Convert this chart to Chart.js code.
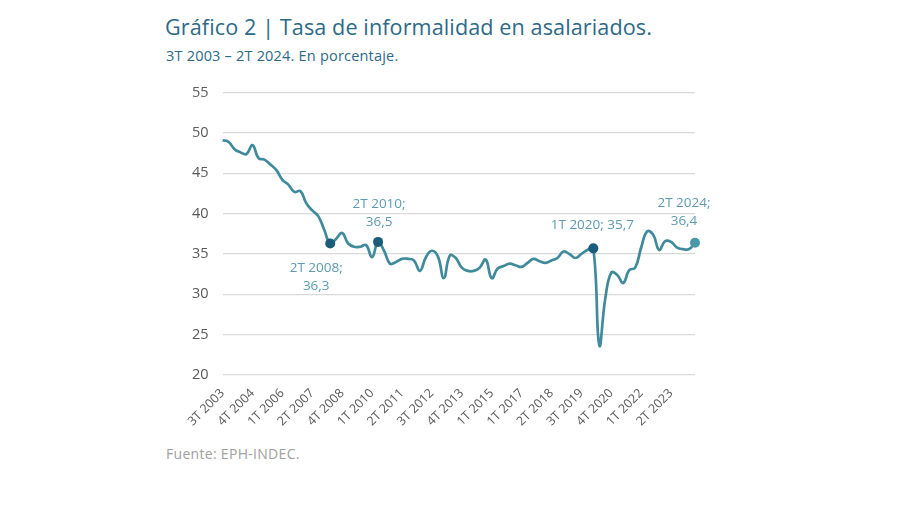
<!DOCTYPE html>
<html>
<head>
<meta charset="utf-8">
<script src="https://cdn.jsdelivr.net/npm/chart.js@4"></script>
<style>
  body { margin: 0; background: #fff; width: 900px; height: 506px; overflow: hidden; font-family: "Open Sans", sans-serif; }
  #title { position: absolute; left: 165px; top: 12px; font-size: 21.6px; color: #2d6a88; letter-spacing: 0.1px; }
  #subtitle { position: absolute; left: 166px; top: 46px; font-size: 14.5px; color: #2d6a88; letter-spacing: 0.2px; }
  #source { position: absolute; left: 166px; top: 444px; font-size: 14px; color: #a0a0a0; letter-spacing: 0.3px; }
  #wrap { position: absolute; left: 178px; top: 70px; width: 542px; height: 362px; }
</style>
</head>
<body>
<div id="title">Gráfico 2 | Tasa de informalidad en asalariados.</div>
<div id="subtitle">3T 2003 – 2T 2024. En porcentaje.</div>
<div id="source">Fuente: EPH-INDEC.</div>
<div id="wrap"><canvas id="chart"></canvas></div>
<script>
// quarters 3T 2003 - 2T 2024 (no data for 3T 2007 and 3T 2015 - 1T 2016)
const quarters = [
  '3T 2003', '4T 2003',
  '1T 2004', '2T 2004', '3T 2004', '4T 2004',
  '1T 2005', '2T 2005', '3T 2005', '4T 2005',
  '1T 2006', '2T 2006', '3T 2006', '4T 2006',
  '1T 2007', '2T 2007', '4T 2007',
  '1T 2008', '2T 2008', '3T 2008', '4T 2008',
  '1T 2009', '2T 2009', '3T 2009', '4T 2009',
  '1T 2010', '2T 2010', '3T 2010', '4T 2010',
  '1T 2011', '2T 2011', '3T 2011', '4T 2011',
  '1T 2012', '2T 2012', '3T 2012', '4T 2012',
  '1T 2013', '2T 2013', '3T 2013', '4T 2013',
  '1T 2014', '2T 2014', '3T 2014', '4T 2014',
  '1T 2015', '2T 2015',
  '2T 2016', '3T 2016', '4T 2016',
  '1T 2017', '2T 2017', '3T 2017', '4T 2017',
  '1T 2018', '2T 2018', '3T 2018', '4T 2018',
  '1T 2019', '2T 2019', '3T 2019', '4T 2019',
  '1T 2020', '2T 2020', '3T 2020', '4T 2020',
  '1T 2021', '2T 2021', '3T 2021', '4T 2021',
  '1T 2022', '2T 2022', '3T 2022', '4T 2022',
  '1T 2023', '2T 2023', '3T 2023', '4T 2023',
  '1T 2024', '2T 2024'
];

const informalidad = [
  49.1, 48.9,
  48.0, 47.6, 47.4, 48.5,
  46.9, 46.7, 46.1, 45.4,
  44.2, 43.6, 42.7, 42.8,
  41.3, 40.4, 39.7,
  38.0, 36.3, 36.9, 37.6,
  36.3, 35.9, 35.9, 36.1,
  34.6, 36.5, 35.4, 33.8,
  34.0, 34.4, 34.4, 34.2,
  32.9, 34.6, 35.4, 34.7,
  32.0, 34.8, 34.5, 33.3,
  32.9, 32.9, 33.3, 34.3,
  32.0, 33.2,
  33.5, 33.8, 33.6,
  33.4, 33.9, 34.4, 34.1,
  33.9, 34.2, 34.5, 35.3,
  35.0, 34.5, 35.0, 35.5,
  35.7, 23.7, 29.5, 32.7,
  32.4, 31.4, 33.0, 33.3,
  35.8, 37.8, 37.4, 35.5,
  36.6, 36.5, 35.8, 35.6,
  35.6, 36.4
];

const yTicks = [20, 25, 30, 35, 40, 45, 50, 55];

// highlighted quarters with their callouts
const callouts = [
  { q: '2T 2008', lines: ['2T 2008;', '36,3'], dx: -14, dy: 25 },
  { q: '2T 2010', lines: ['2T 2010;', '36,5'], dx: 1, dy: -38 },
  { q: '1T 2020', lines: ['1T 2020; 35,7'], dx: -1, dy: -23 },
  { q: '2T 2024', lines: ['2T 2024;', '36,4'], dx: -11, dy: -40 }
];

const lineColor = '#3f8a9b';
const dotColor = '#1b5b7c';
const lastDotColor = '#4b97a8';

const highlight = callouts.map(c => quarters.indexOf(c.q));

const calloutPlugin = {
  id: 'callouts',
  afterDatasetsDraw(chart) {
    const ctx = chart.ctx;
    const meta = chart.getDatasetMeta(0);
    ctx.save();
    ctx.font = '13.5px "Open Sans"';
    ctx.fillStyle = '#5c9bb2';
    ctx.textAlign = 'center';
    ctx.textBaseline = 'middle';
    callouts.forEach(c => {
      const pt = meta.data[quarters.indexOf(c.q)];
      c.lines.forEach((t, i) => {
        ctx.fillText(t, pt.x + c.dx, pt.y + c.dy + i * 18);
      });
    });
    ctx.restore();
  }
};

new Chart(document.getElementById('chart'), {
  type: 'line',
  data: {
    labels: quarters,
    datasets: [{
      data: informalidad,
      borderColor: lineColor,
      borderWidth: 2.7,
      tension: 0.45,
      fill: false,
      pointRadius: ctx => highlight.includes(ctx.dataIndex) ? 5 : 0,
      pointHoverRadius: 0,
      pointBackgroundColor: ctx => ctx.dataIndex === quarters.length - 1 ? lastDotColor : dotColor,
      pointBorderWidth: 0
    }]
  },
  options: {
    responsive: true,
    maintainAspectRatio: false,
    animation: false,
    layout: { padding: { top: 6, right: 25, left: 0, bottom: 0 } },
    plugins: { legend: { display: false }, tooltip: { enabled: false } },
    scales: {
      x: {
        offset: false,
        grid: { display: false },
        border: { display: false },
        ticks: {
          autoSkip: false,
          minRotation: 45,
          maxRotation: 45,
          color: '#595959',
          font: { family: 'Open Sans', size: 12.5 },
          padding: 3,
          callback: function (v, i) { return i % 5 === 0 ? quarters[i] : null; }
        }
      },
      y: {
        min: yTicks[0],
        max: yTicks[yTicks.length - 1],
        afterBuildTicks: axis => { axis.ticks = yTicks.map(v => ({ value: v })); },
        grid: { color: '#d9d9d9', lineWidth: 1.2, drawTicks: false },
        border: { display: false },
        ticks: {
          color: '#595959',
          font: { family: 'Open Sans', size: 14.5 },
          padding: 14
        }
      }
    }
  },
  plugins: [calloutPlugin]
});
</script>
</body>
</html>
